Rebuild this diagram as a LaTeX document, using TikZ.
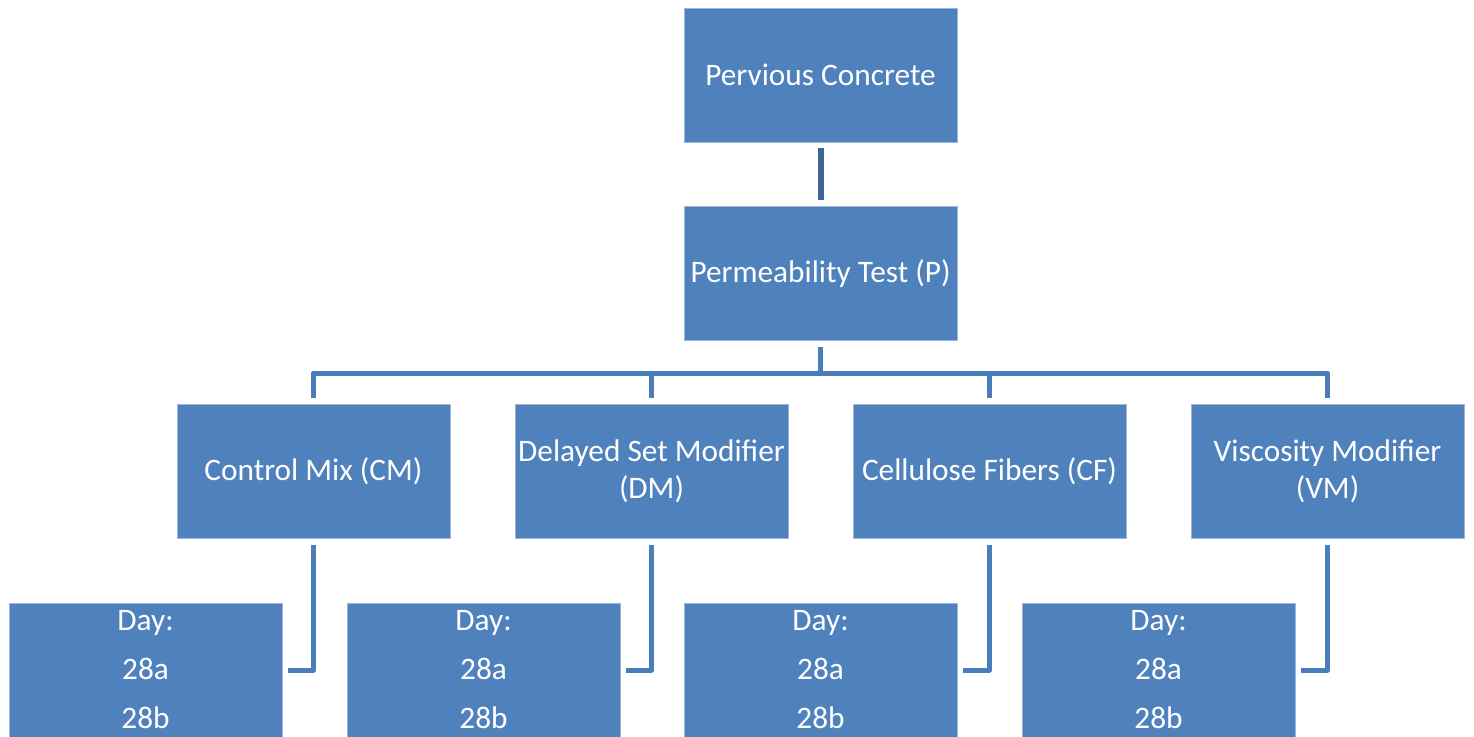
\documentclass[tikz,border=0pt]{standalone}
\usepackage{fontspec}
\setmainfont{Carlito}
\definecolor{boxblue}{HTML}{4F81BD}
\definecolor{boxedge}{HTML}{9DB6DA}
\definecolor{linkblue}{HTML}{4A7EBB}
\definecolor{linkdark}{HTML}{3C6496}
\begin{document}
\begin{tikzpicture}[x=1pt,y=-1pt,
  box/.style={draw=boxedge, line width=0.8pt, fill=boxblue, text=white,
    minimum width=273pt, minimum height=134pt, inner sep=0pt, align=center,
    font=\fontsize{31.3}{37}\selectfont},
  link/.style={draw=linkblue, line width=5pt, line join=round},
]
\useasboundingbox (0,0) rectangle (1474,736);
\clip (0,0) rectangle (1474,736);
\node[box] (top) at (820.5,75) {Pervious Concrete};
\node[box] (P) at (820.5,273.5) {Permeability Test (P)};
\node[box] (CM) at (313.5,471.5) {Control Mix (CM)};
\node[box] (DM) at (651.5,471.5) {Delayed Set Modifier\\(DM)};
\node[box] (CF) at (989.5,471.5) {Cellulose Fibers (CF)};
\node[box] (VM) at (1327.5,471.5) {Viscosity Modifier\\(VM)};
\node[box] (D1) at (145.5,670) {Day:\\[12pt]28a\\[12pt]28b};
\node[box] (D2) at (483.5,670) {Day:\\[12pt]28a\\[12pt]28b};
\node[box] (D3) at (820.5,670) {Day:\\[12pt]28a\\[12pt]28b};
\node[box] (D4) at (1158.5,670) {Day:\\[12pt]28a\\[12pt]28b};
\draw[draw=linkdark, line width=6pt, shorten <=6pt, shorten >=6pt] (top) -- (P);
\coordinate (bus) at (820.5,373);
\draw[link, shorten <=6pt] (P.south) -- (bus);
\foreach \n in {CM,DM,CF,VM}{
  \draw[link, shorten >=6pt] (bus) -| (\n.north);
}
\draw[link, shorten <=6pt, shorten >=6pt] (CM.south) |- (D1.east);
\draw[link, shorten <=6pt, shorten >=6pt] (DM.south) |- (D2.east);
\draw[link, shorten <=6pt, shorten >=6pt] (CF.south) |- (D3.east);
\draw[link, shorten <=6pt, shorten >=6pt] (VM.south) |- (D4.east);
\end{tikzpicture}
\end{document}
